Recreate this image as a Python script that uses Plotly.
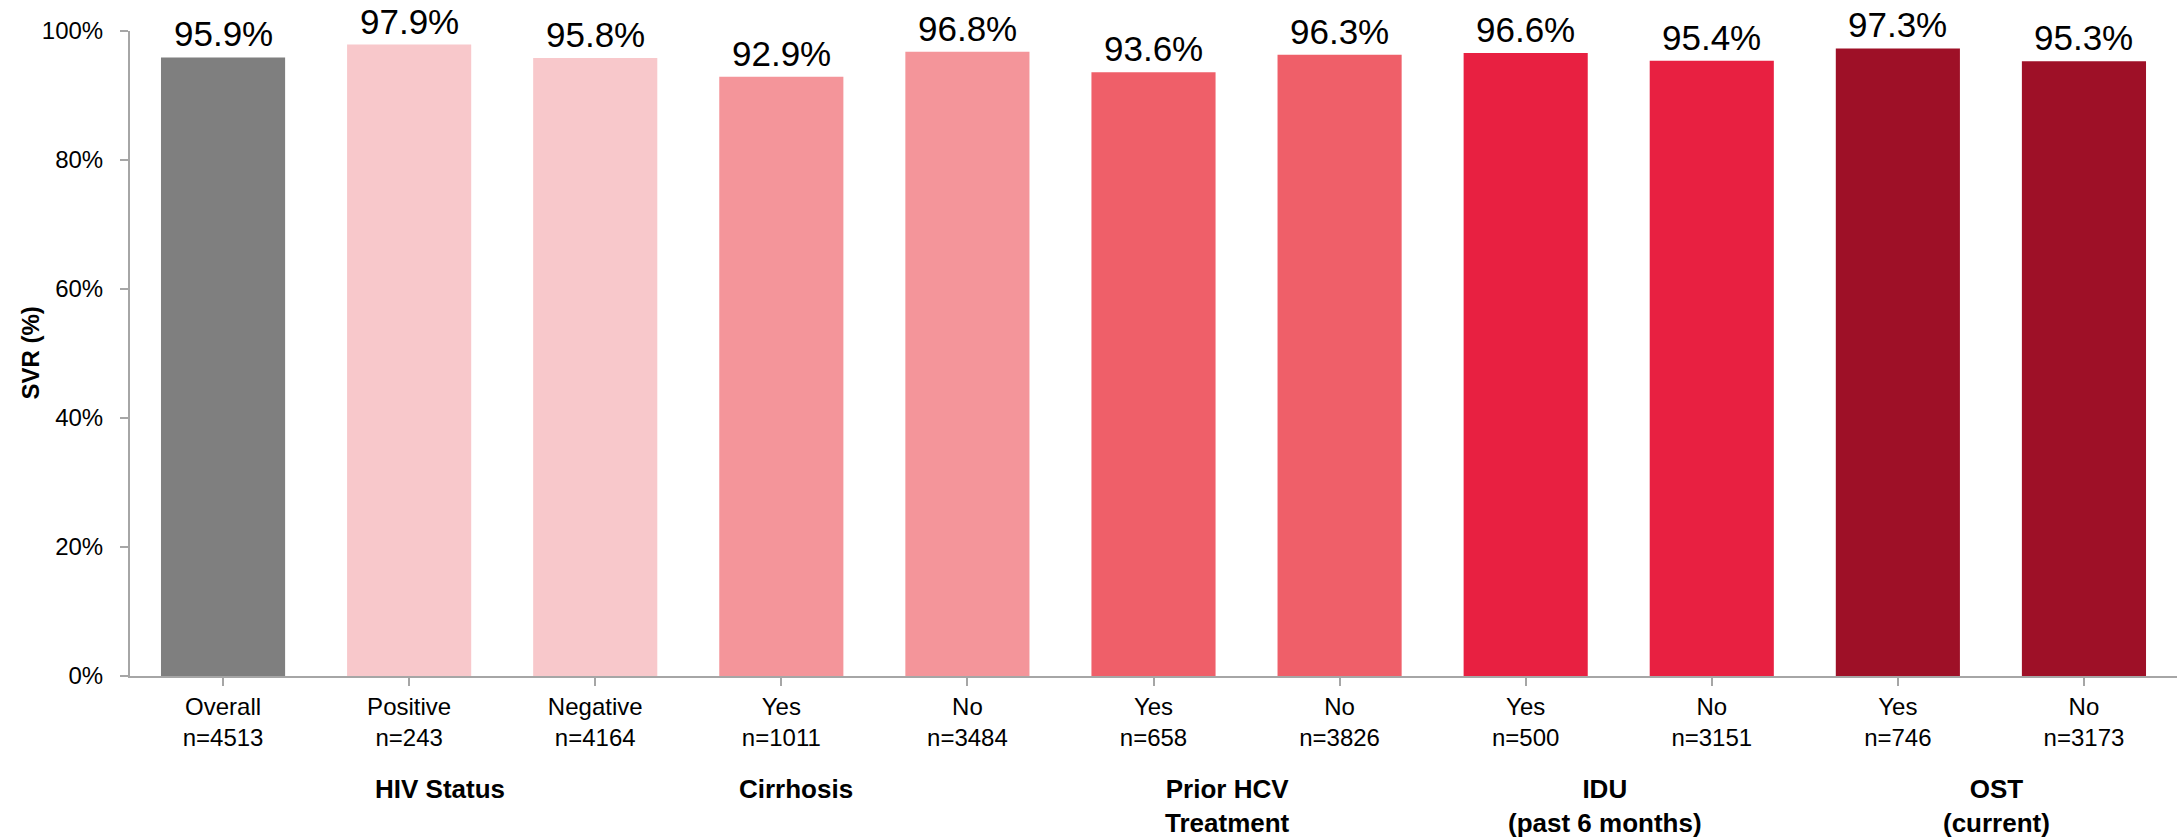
import plotly.graph_objects as go

categories = ["Overall<br>n=4513", "Positive<br>n=243", "Negative<br>n=4164",
              "Yes<br>n=1011", "No<br>n=3484", "Yes<br>n=658", "No<br>n=3826",
              "Yes<br>n=500", "No<br>n=3151", "Yes<br>n=746", "No<br>n=3173"]
svr = [95.9, 97.9, 95.8, 92.9, 96.8, 93.6, 96.3, 96.6, 95.4, 97.3, 95.3]
bar_colors = ["#7f7f7f", "#f8c8cb", "#f8c8cb", "#f4959a", "#f4959a",
              "#ef5f69", "#ef5f69", "#e82041", "#e82041", "#9e1027", "#9e1027"]
group_labels = ["HIV Status", "Cirrhosis", "Prior HCV<br>Treatment",
                "IDU<br>(past 6 months)", "OST<br>(current)"]
group_pos = [1.167, 3.08, 5.40, 7.425, 9.53]
y_ticks = [0, 20, 40, 60, 80, 100]
y_ticktext = ["0%", "20%", "40%", "60%", "80%", "100%"]

NARROW = "Liberation Sans Narrow, Arial Narrow, Liberation Sans, Arial, sans-serif"

W, H = 2181, 839
ML, MR, MT, MB = 130, 4, 31, 163
plot_w = W - ML - MR

fig = go.Figure()
fig.add_trace(go.Bar(
    x=list(range(len(categories))), y=svr,
    marker=dict(color=bar_colors, line=dict(width=0)),
    width=0.667, cliponaxis=False, hoverinfo="skip",
))

for i, v in enumerate(svr):
    fig.add_annotation(x=i, y=v, text=f"{v:.1f}%", showarrow=False,
                       xref="x", yref="y", yanchor="bottom", yshift=2,
                       font=dict(family="Liberation Sans, Arial, sans-serif",
                                 size=35, color="#000000"))

for lbl, pos in zip(group_labels, group_pos):
    fig.add_annotation(x=pos, y=0, text=f"<b>{lbl}</b>", showarrow=False,
                       xref="x", yref="paper", yanchor="top", yshift=-96,
                       font=dict(family=NARROW, size=26, color="#000000"))

# y-axis title
fig.add_annotation(x=(30 - ML) / plot_w, y=0.5, xref="paper", yref="paper",
                   text="<b>SVR (%)</b>", textangle=-90, showarrow=False,
                   xanchor="center", yanchor="middle",
                   font=dict(family=NARROW, size=24, color="#000000"))

fig.update_layout(
    width=W, height=H,
    margin=dict(l=ML, r=MR, t=MT, b=MB),
    paper_bgcolor="white", plot_bgcolor="white",
    showlegend=False,
    font=dict(family=NARROW, color="#000000"),
)
fig.update_xaxes(
    tickmode="array", tickvals=list(range(len(categories))), ticktext=categories,
    range=[-0.5, len(categories) - 0.5],
    showline=True, linecolor="#a6a6a6", linewidth=2,
    ticks="outside", ticklen=8, tickcolor="#a6a6a6", tickwidth=2,
    tickfont=dict(family=NARROW, size=24, color="#000000"),
    showgrid=False, zeroline=False,
)
fig.update_yaxes(
    range=[0, 100], tickmode="array", tickvals=y_ticks, ticktext=y_ticktext,
    showline=True, linecolor="#a6a6a6", linewidth=2,
    ticks="outside", ticklen=8, tickcolor="#a6a6a6", tickwidth=2,
    tickfont=dict(family=NARROW, size=24, color="#000000"),
    ticklabelstandoff=12,
    showgrid=False, zeroline=False,
)

fig.write_html("out.html")
